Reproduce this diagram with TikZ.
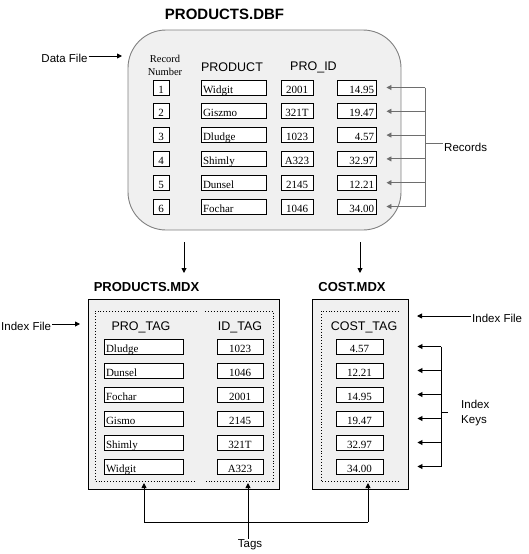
\documentclass[tikz,border=0pt]{standalone}
\usepackage{fontspec}
\setmainfont{Liberation Serif}
\setsansfont{Liberation Sans}
\usetikzlibrary{arrows.meta}
\definecolor{panel}{HTML}{F0F0F0}
\definecolor{arrgray}{HTML}{6E6E6E}
\definecolor{edgegray}{HTML}{808080}
\newcommand\lowtxt[1]{\raisebox{-5.5pt}[0pt][0pt]{#1}}
\begin{document}
\begin{tikzpicture}[x=1pt,y=-1pt,
  cell/.style={draw=black, fill=white, line width=0.9pt, minimum height=15pt,
    inner ysep=0pt, inner xsep=2pt, font=\fontsize{11}{11}\selectfont},
  numcell/.style={cell, text width=12pt, align=center},
  prodcell/.style={cell, text width=61pt, align=left},
  idcell/.style={cell, text width=28pt, align=center},
  pricecell/.style={cell, text width=35pt, align=right},
  ptagcell/.style={cell, text width=75pt, align=left},
  itagcell/.style={cell, text width=42pt, align=center},
  costcell/.style={cell, text width=43pt, align=center},
  lbl/.style={font=\sffamily\fontsize{11.5}{14}\selectfont, inner sep=1pt},
  hdr/.style={font=\sffamily\fontsize{12.5}{14}\selectfont, inner sep=1pt},
  ttl/.style={font=\sffamily\bfseries\fontsize{13}{15}\selectfont, inner sep=1pt},
  panelbox/.style={draw=black, fill=panel, line width=0.9pt, inner sep=0pt},
  arr/.style={-{Triangle[length=5pt,width=5pt]}, line width=0.9pt},
  garr/.style={-{Triangle[length=5pt,width=5pt]}, line width=0.9pt, draw=arrgray, color=arrgray},
  gline/.style={line width=0.9pt, draw=arrgray},
  dots/.style={dotted, line width=0.9pt}
]
\useasboundingbox (0,0) rectangle (528,554);

% ---------- PRODUCTS.DBF ----------
\node[font=\sffamily\bfseries\fontsize{15}{17}\selectfont, inner sep=1pt] (dbftitle) at (224.5,14) {PRODUCTS.DBF};
\node[draw=edgegray, fill=panel, line width=0.9pt, rounded corners=38pt,
      minimum width=273pt, minimum height=200pt, inner sep=0pt] (dbf) at (264.5,130) {};

\node[lbl] (df) at (64.5,58) {Data File};
\coordinate (dftip) at (122,56);
\draw[arr] (dftip -| df.east) -- (dftip);

\node[font=\fontsize{10.5}{13}\selectfont, align=center, inner sep=0pt] (recnum) at (165,65) {Record\\Number};
\node[hdr] (hprod) at (232,67) {PRODUCT};
\node[hdr] (hproid) at (313.5,67) {PRO\_ID};

\foreach \i/\p/\d/\c in {1/Widgit/2001/14.95, 2/Giszmo/321T/19.47, 3/Dludge/1023/4.57,
                          4/Shimly/A323/32.97, 5/Dunsel/2145/12.21, 6/Fochar/1046/34.00} {
  \pgfmathsetmacro\yy{87.5+23.8*(\i-1)}
  \node[numcell] (n\i) at (161,\yy) {\lowtxt{\i}};
  \node[prodcell] (p\i) at (233.5,\yy) {\lowtxt{\p}};
  \node[idcell] (d\i) at (297,\yy) {\lowtxt{\d}};
  \node[pricecell] (c\i) at (356.5,\yy) {\lowtxt{\c}};
  \coordinate (rk\i) at (425,\yy);
  \draw[garr, shorten >=10pt] (rk\i) -- (c\i.east);
}
\draw[gline] (rk1) -- (rk6);
\coordinate (rstub) at (425,143);
\node[lbl, anchor=west] (records) at (443,147) {Records};
\draw[gline] (rstub) -- (rstub -| records.west);

% down arrows
\coordinate (da1) at (184,242); \coordinate (db1) at (184,273);
\coordinate (da2) at (360,242); \coordinate (db2) at (360,273);
\draw[arr] (da1) -- (db1);
\draw[arr] (da2) -- (db2);

% ---------- PRODUCTS.MDX ----------
\node[ttl] (pmdxtitle) at (146.5,287) {PRODUCTS.MDX};
\node[panelbox, minimum width=191pt, minimum height=190pt] (pmdx) at (183.5,394) {};
\draw[dots] (197,311) -- (95,311) -- (95,481) -- (197,481);
\draw[dots] (205,311) -- (273,311) -- (273,481) -- (205,481);

\node[lbl, anchor=west] (ifl) at (0,326) {Index File};
\coordinate (ifltip) at (80,324);
\draw[arr] (ifltip -| ifl.east) -- (ifltip);

\node[hdr] (hptag) at (141,327) {PRO\_TAG};
\node[hdr] (hitag) at (240,327) {ID\_TAG};

\foreach \i/\p/\d in {1/Dludge/1023, 2/Dunsel/1046, 3/Fochar/2001, 4/Gismo/2145, 5/Shimly/321T, 6/Widgit/A323} {
  \pgfmathsetmacro\yy{346.5+24*(\i-1)}
  \node[ptagcell] (pt\i) at (143.5,\yy) {\lowtxt{\p}};
  \node[itagcell] (it\i) at (240,\yy) {\lowtxt{\d}};
}

% ---------- COST.MDX ----------
\node[ttl] (cmdxtitle) at (352,287) {COST.MDX};
\node[panelbox, minimum width=96pt, minimum height=190pt] (cmdx) at (360,394) {};
\draw[dots] (399,311) -- (321,311) -- (321,481) -- (399,481);
\node[hdr] (hctag) at (364,327) {COST\_TAG};

\foreach \i/\c in {1/4.57, 2/12.21, 3/14.95, 4/19.47, 5/32.97, 6/34.00} {
  \pgfmathsetmacro\yy{346.5+24*(\i-1)}
  \node[costcell] (k\i) at (359.5,\yy) {\lowtxt{\c}};
  \coordinate (ik\i) at (441,\yy);
  \draw[arr, shorten >=34pt] (ik\i) -- (k\i.east);
}
\draw[line width=0.9pt] (ik1) -- (ik6);
\coordinate (kstub) at (441,412);
\node[lbl, anchor=west, align=left, font=\sffamily\fontsize{11.5}{15}\selectfont] (ikeys) at (460,413) {Index\\Keys};
\draw[line width=0.9pt] (kstub) -- ++(7,0);

\node[lbl, anchor=west] (ifr) at (471,318) {Index File};
\coordinate (ifrtip) at (417,316);
\draw[arr] (ifrtip -| ifr.west) -- (ifrtip);

% ---------- Tags ----------
\node[lbl] (tags) at (250,545) {Tags};
\coordinate (t1) at (144,483); \coordinate (t2) at (248,483); \coordinate (t3) at (368,483);
\coordinate (j1) at (144,522); \coordinate (j3) at (368,522);
\draw[line width=0.9pt] (j1) -- (j3);
\draw[arr] (j1) -- (t1);
\draw[arr] (j3) -- (t3);
\draw[arr] (t2 |- tags.north) -- (t2);
\end{tikzpicture}
\end{document}
